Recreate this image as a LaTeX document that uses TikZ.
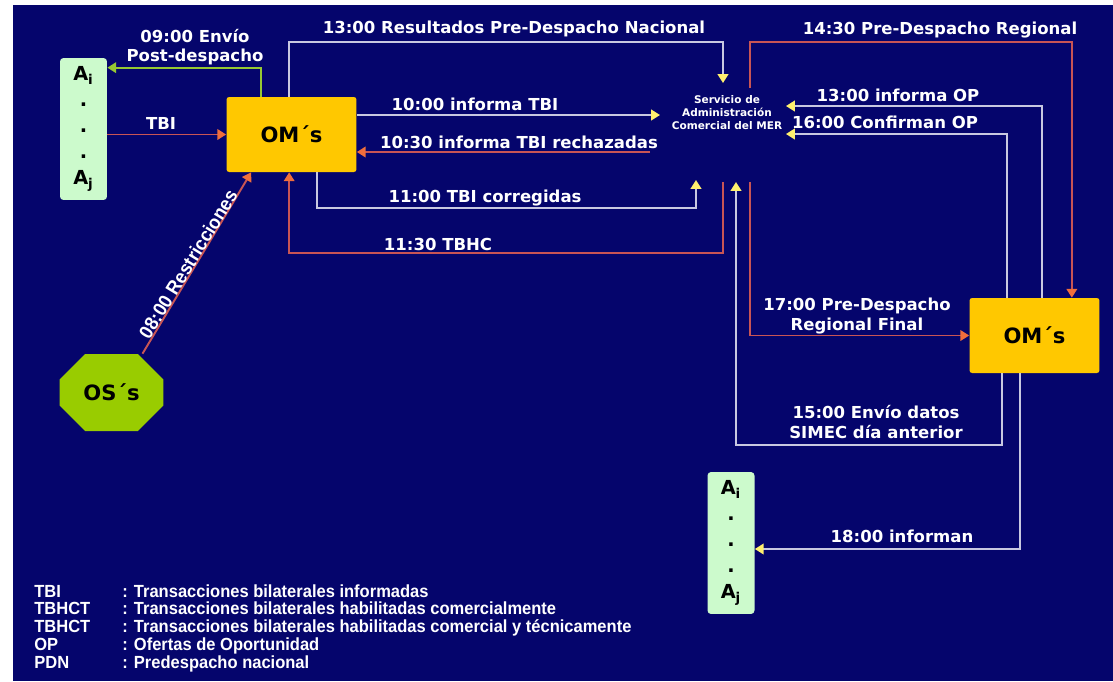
\documentclass[tikz,border=0pt]{standalone}
\usepackage{fontspec}
\setmainfont{DejaVu Sans}
\newfontfamily\narrowfont[FakeStretch=0.94]{Liberation Sans}
\usepackage{xcolor}
\usetikzlibrary{arrows.meta, shapes.misc, calc}

\definecolor{bgblue}{RGB}{5,5,108}
\definecolor{omyellow}{RGB}{255,200,0}
\definecolor{agreen}{RGB}{204,250,204}
\definecolor{osgreen}{RGB}{153,204,0}
\definecolor{linegray}{RGB}{200,200,225}
\definecolor{linered}{RGB}{200,85,85}
\definecolor{linegreen}{RGB}{150,200,50}
\definecolor{tipyellow}{RGB}{255,240,110}
\definecolor{tiporange}{RGB}{240,110,60}

\tikzset{
  lbl/.style={text=white, font=\fontsize{9.4}{11}\selectfont\bfseries, align=center, inner sep=0pt},
  ombox/.style={fill=omyellow, rounded corners=1.5pt, minimum width=2.6cm, minimum height=1.5cm, font=\fontsize{12}{14}\selectfont\bfseries},
  agbox/.style={fill=agreen, rounded corners=2pt, minimum width=0.94cm, minimum height=2.84cm, inner sep=0pt, align=center, font=\fontsize{11}{14.8}\selectfont\bfseries},
  grayline/.style={draw=linegray, line width=1.1pt, -{Triangle[width=6pt,length=5pt,color=tipyellow]}},
  redline/.style={draw=linered, line width=1.1pt, -{Triangle[width=6pt,length=5pt,color=tiporange]}},
  greenline/.style={draw=linegreen, line width=1.1pt, -{Triangle[width=6pt,length=5pt]}},
}

\begin{document}
\begin{tikzpicture}[x=0.02cm, y=-0.02cm]
        \useasboundingbox (0,0) rectangle (1113,681);
        \fill[bgblue] (13,5) rectangle (1113,681);

        % boxes
        \node[agbox] (agL) at (83.5,129) {A\textsubscript{i}\\.\\.\\.\\A\textsubscript{j}};
        \node[ombox] (omL) at (291.5,134.5) {OM´s};
        \node[chamfered rectangle, fill=osgreen, minimum width=2.08cm, minimum height=1.54cm,
              chamfered rectangle xsep=0.4cm, chamfered rectangle ysep=0.34cm, inner sep=0pt,
              font=\fontsize{12}{14}\selectfont\bfseries] (osN) at (111.5,392.5) {OS´s};
        \node[text=white, align=center, inner sep=0pt, font=\fontsize{6}{7.4}\selectfont\bfseries] (sas) at (727,113)
              {Servicio de\\Administración\\Comercial del MER};
        \node[ombox] (omR) at (1034.5,335.5) {OM´s};
        \node[agbox] (agR) at (731,543) {A\textsubscript{i}\\.\\.\\.\\A\textsubscript{j}};

        % ends around the service
        \coordinate (inNac) at (723,83);
        \coordinate (inTBI) at (660,115);
        \coordinate (outRech) at (650,152);
        \coordinate (inCorr) at (696,180);
        \coordinate (outTBHC) at (723,182);
        \coordinate (outReg) at (750,88);
        \coordinate (inOP) at (786,106);
        \coordinate (inConf) at (786,134);
        \coordinate (outFinal) at (750,182);
        \coordinate (inSimec) at (736,182);

        % connectors
        \draw[greenline] ($(omL.north west)+(35,0)$) |- ($(agL.north east)+(0,10)$);
        \draw[redline] (agL.east |- omL.west) -- (omL.west);
        \draw[grayline] ($(omL.north west)+(63,0)$) -- ++(0,-55) -| (inNac);
        \draw[grayline] (omL.east |- inTBI) -- (inTBI);
        \draw[redline] (outRech) -- (omL.east |- outRech);
        \draw[grayline] ($(omL.south west)+(91,0)$) -- ++(0,36) -| (inCorr);
        \draw[redline] (outTBHC) -- ++(0,71) -| ($(omL.south west)+(63,0)$);
        \draw[redline] ($(osN.north)+(31,0)$) -- ($(omL.south west)+(25,0)$);
        \draw[redline] (outReg) -- ++(0,-46) -| ($(omR.north east)+(-28,0)$);
        \draw[grayline] ($(omR.north west)+(73,0)$) |- (inOP);
        \draw[grayline] ($(omR.north west)+(38,0)$) |- (inConf);
        \draw[redline] (outFinal) |- (omR.west);
        \draw[grayline] ($(omR.south west)+(33,0)$) -- ++(0,72) -| (inSimec);
        \draw[grayline] ($(omR.south west)+(51,0)$) |- ($(agR.east)+(0,6)$);

        % labels
        \node[lbl] (lPost) at (195,47) {09:00 Envío\\Post-despacho};
        \node[lbl] (lTBI) at (161,123) {TBI};
        \node[lbl] (lNac) at (514,29) {13:00 Resultados Pre-Despacho Nacional};
        \node[lbl] (lInf) at (475,104) {10:00 informa TBI};
        \node[lbl] (lRech) at (519,142) {10:30 informa TBI rechazadas};
        \node[lbl] (lCorr) at (485,198) {11:00 TBI corregidas};
        \node[lbl] (lTBHC) at (438,244) {11:30 TBHC};
        \node[text=white, inner sep=0pt, rotate=58.5, font=\fontsize{11}{13}\selectfont\narrowfont\bfseries] (lRest) at (188,264) {08:00 Restricciones};
        \node[lbl] (lReg) at (940,30) {14:30 Pre-Despacho Regional};
        \node[lbl] (lOP) at (898,95) {13:00 informa OP};
        \node[lbl] (lConf) at (885,122) {16:00 Confirman OP};
        \node[lbl] (lFinal) at (857,316) {17:00 Pre-Despacho\\Regional Final};
        \node[lbl] (lSimec) at (876,422) {15:00 Envío datos\\SIMEC día anterior};
        \node[lbl] (lInfn) at (902,536) {18:00 informan};

        % legend
        \node[anchor=north west, text=white, inner sep=0pt, font=\fontsize{10}{9.6}\selectfont\narrowfont\bfseries] (legend) at (34,584)
        {\begin{tabular}{@{}p{1.76cm}@{}l@{}}
        TBI & : Transacciones bilaterales informadas\\
        TBHCT & : Transacciones bilaterales habilitadas comercialmente\\
        TBHCT & : Transacciones bilaterales habilitadas comercial y técnicamente\\
        OP & : Ofertas de Oportunidad\\
        PDN & : Predespacho nacional
        \end{tabular}};
    \end{tikzpicture}
\end{document}
